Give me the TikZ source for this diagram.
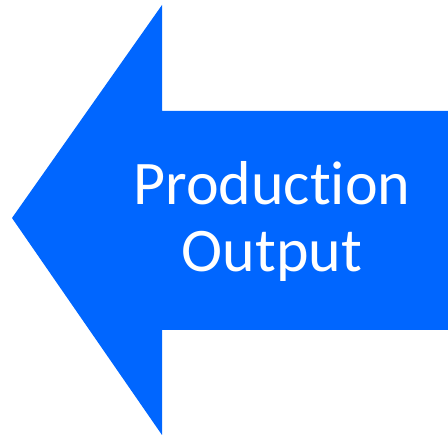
\documentclass[tikz,border=0pt]{standalone}
\usepackage{fontspec}
\setmainfont[Ligatures=NoCommon]{Carlito}
\definecolor{arrowblue}{RGB}{0,102,255}
\usepackage{tikz}
\usetikzlibrary{positioning,calc}

\begin{document}
\begin{tikzpicture}[x=1pt,y=-1pt,
  arrowfill/.style={fill=arrowblue,draw=none},
  label/.style={text=white,font=\fontsize{62}{67}\selectfont,align=center,inner sep=0pt}
]
  \useasboundingbox (0,0) rectangle (448,435);
  % Arrow
  \fill[arrowfill] (12,218) -- (162,5) -- (162,111) -- (448,111)
    -- (448,330) -- (162,330) -- (162,435) -- cycle;
  % Text
  \node[label] (prodout) at (272,221) {Produc\kern0pt tion\\Output};
\end{tikzpicture}
\end{document}
